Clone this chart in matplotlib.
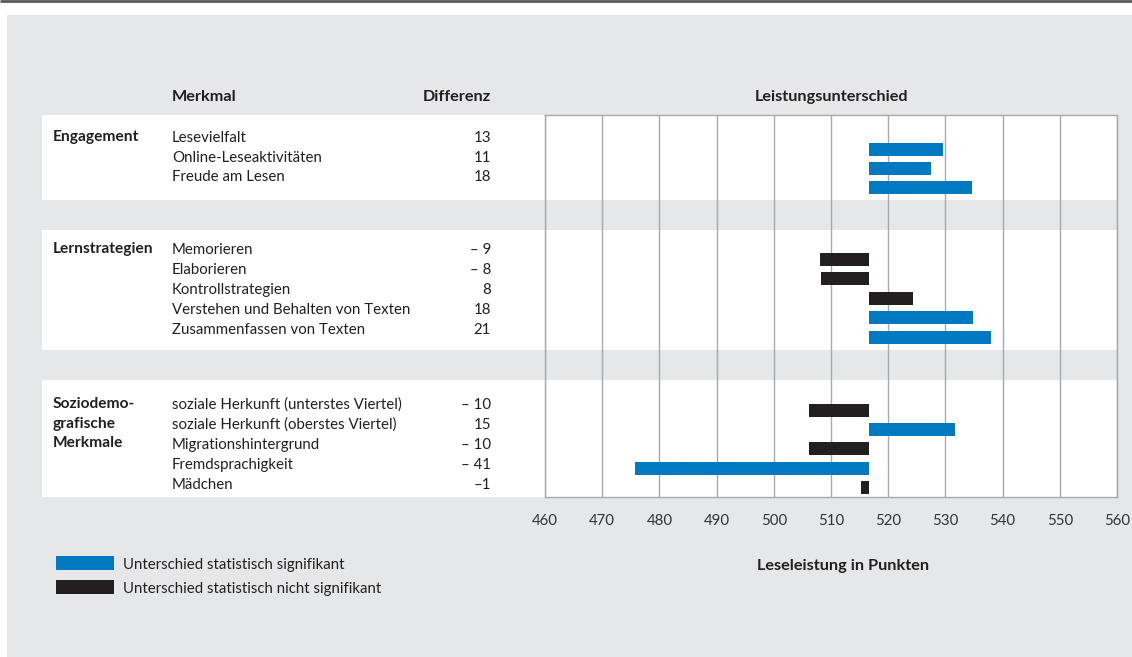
import matplotlib.pyplot as plt
from matplotlib.patches import Rectangle

plt.rcParams["font.family"] = ["Lato", "DejaVu Sans"]

# data
groups = ["Engagement", "Lernstrategien", "Soziodemo-\ngrafische\nMerkmale"]
items = [
    ["Lesevielfalt", "Online-Leseaktivitäten", "Freude am Lesen"],
    ["Memorieren", "Elaborieren", "Kontrollstrategien",
     "Verstehen und Behalten von Texten", "Zusammenfassen von Texten"],
    ["soziale Herkunft (unterstes Viertel)", "soziale Herkunft (oberstes Viertel)",
     "Migrationshintergrund", "Fremdsprachigkeit", "Mädchen"],
]
# bar lengths as drawn (unrounded), labels as printed
diffs = [
    [13.0, 10.8, 18.1],
    [-8.6, -8.4, 7.7, 18.2, 21.4],
    [-10.5, 15.0, -10.5, -40.8, -1.4],
]
diff_labels = [
    ["13", "11", "18"],
    ["– 9", "– 8", "8", "18", "21"],
    ["– 10", "15", "– 10", "– 41", "–1"],
]
significant = [
    [True, True, True],
    [False, False, False, True, True],
    [False, True, False, True, False],
]
base = 516.6
xticks = list(range(460, 561, 10))

BLUE = "#0079c1"
BLACK = "#231f20"
GREY_BG = "#e6e7e8"
GRID = "#a7a9ac"
TXT = "#231f20"

W, H = 1132, 657
fig = plt.figure(figsize=(W / 100, H / 100), dpi=100)

# background / table layer in pixel coords
bg = fig.add_axes([0, 0, 1, 1])
bg.set_xlim(0, W)
bg.set_ylim(H, 0)
bg.axis("off")

bg.plot([0, W], [1, 1], color="#58595b", lw=2, solid_capstyle="butt")
bg.add_patch(Rectangle((7, 15), W - 7, H - 15, fc=GREY_BG, ec="none"))

# band layout (pixel rows)
band_top = [115, 230, 380]
band_bot = [200, 350, 497]
text_first = [138, 250, 405]
text_step = [19.5, 20, 20]
bar_first = [149, 259.3, 410.3]
bar_step = [19.3, 19.5, 19.3]

for k in range(3):
    bg.add_patch(Rectangle((42, band_top[k]), 1117 - 42, band_bot[k] - band_top[k],
                           fc="white", ec="none"))

fs = 10.8
fs_head = 11.7
fs_group = 11.2
bg.text(172, 97, "Merkmal", fontsize=fs_head, weight="bold", color=TXT, va="center")
bg.text(491, 97, "Differenz", fontsize=fs_head, weight="bold", color=TXT, va="center",
        ha="right")
bg.text(831, 97, "Leistungsunterschied", fontsize=fs_head, weight="bold", color=TXT,
        va="center", ha="center")
bg.text(843, 566, "Leseleistung in Punkten", fontsize=fs_head, weight="bold", color=TXT,
        va="center", ha="center")

for k in range(3):
    bg.text(53, text_first[k] - 8, groups[k], fontsize=fs_group, weight="bold", color=TXT,
            va="top", linespacing=1.52)
    for i, name in enumerate(items[k]):
        y = text_first[k] + i * text_step[k]
        bg.text(172, y, name, fontsize=fs, color=TXT, va="center")
        bg.text(491, y, diff_labels[k][i], fontsize=fs, color=TXT, va="center", ha="right")

# legend
bg.add_patch(Rectangle((56, 556), 58, 14, fc=BLUE, ec="none"))
bg.add_patch(Rectangle((56, 580), 58, 14, fc=BLACK, ec="none"))
bg.text(123, 565, "Unterschied statistisch signifikant", fontsize=fs, color=TXT, va="center")
bg.text(123, 589, "Unterschied statistisch nicht signifikant", fontsize=fs, color=TXT,
        va="center")

# bar axes
ax = fig.add_axes([545 / W, 1 - 497 / H, 572 / W, 382 / H])
ax.set_facecolor("none")
ax.set_xlim(460, 560)
ax.set_ylim(497, 115)
ax.set_xticks(xticks)
ax.set_yticks([])
ax.grid(axis="x", color=GRID, lw=1)
ax.set_axisbelow(True)
ax.tick_params(axis="x", length=0, pad=12, labelsize=fs, labelcolor="#333333")
for s in ax.spines.values():
    s.set_color(GRID)
    s.set_linewidth(1)

for k in range(3):
    ys = [bar_first[k] + i * bar_step[k] for i in range(len(diffs[k]))]
    cols = [BLUE if s else BLACK for s in significant[k]]
    ax.barh(ys, diffs[k], left=base, height=13, color=cols, zorder=3)

fig.savefig("out.png", dpi=100)
